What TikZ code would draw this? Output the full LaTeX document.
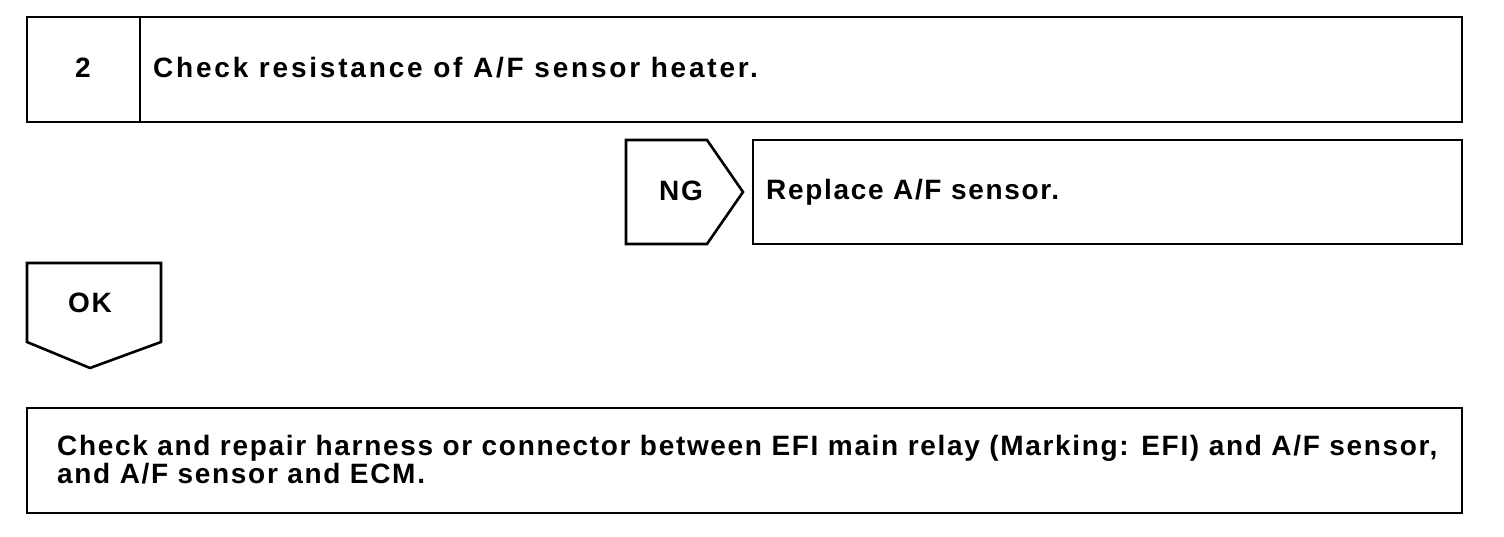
\documentclass[tikz,border=0pt]{standalone}
\usepackage{fontspec}
\setmainfont{Liberation Sans}
\newfontfamily\fwide[LetterSpace=10]{Liberation Sans}
\newfontfamily\fmid[LetterSpace=6]{Liberation Sans}
\begin{document}
\begin{tikzpicture}[x=1pt,y=-1pt,
  box/.style={draw=black,line width=2.6pt,line join=miter},
  txt/.style={font=\fmid\fontsize{28}{28}\selectfont\bfseries,inner sep=0pt,text=black},
  wtxt/.style={font=\fwide\fontsize{28}{28}\selectfont\bfseries,inner sep=0pt,text=black}]
\useasboundingbox (0,0) rectangle (1504,536);
% top step box
\draw[box] (27,17) rectangle (1462,122);
\draw[box] (140,17) -- (140,122);
\node[txt,anchor=base] (num) at (83,77) {2};
\node[wtxt,anchor=base west] (title) at (153,77) {Check resistance of A/F sensor heater.};
% NG arrow
\draw[box] (626,140) -- (707,140) -- (743,192) -- (707,244) -- (626,244) -- cycle;
\node[txt,anchor=base] (ng) at (681,200) {NG};
\draw[box] (753,140) rectangle (1462,244);
\node[txt,anchor=base west] (repl) at (766,199) {Replace A/F sensor.};
% OK arrow
\draw[box] (27,263) -- (161,263) -- (161,342) -- (90,368) -- (27,342) -- cycle;
\node[txt,anchor=base] (ok) at (90,312) {OK};
% bottom box
\draw[box] (27,408) rectangle (1462,513);
\node[txt,anchor=base west,align=left] (rep) at (57,483) {Check and repair harness or connector between EFI main relay (Marking: EFI) and A/F sensor,\\and A/F sensor and ECM.};
\end{tikzpicture}
\end{document}
